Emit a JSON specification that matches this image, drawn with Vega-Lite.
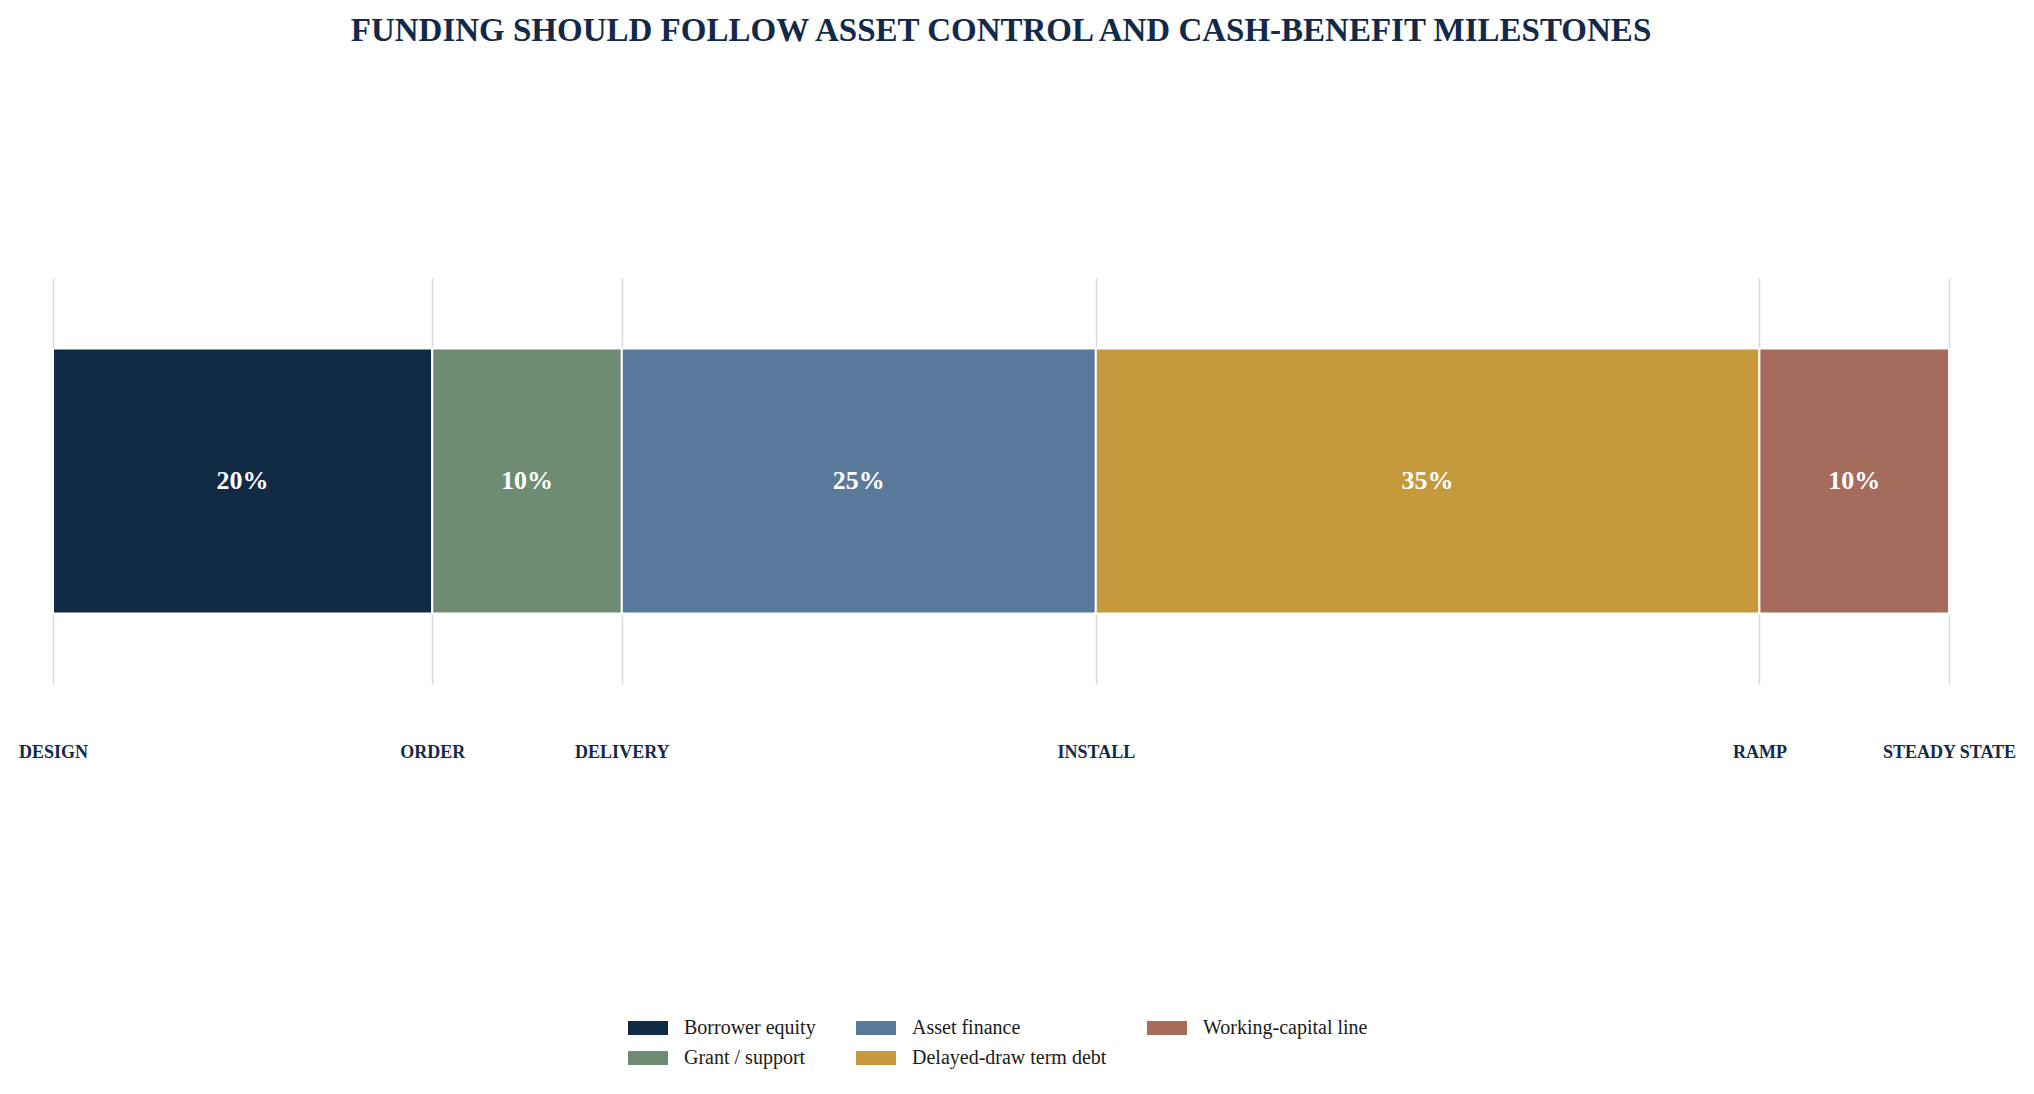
{
  "$schema": "https://vega.github.io/schema/vega-lite/v6.json",
  "width": 1896,
  "height": 406,
  "autosize": {"type": "none"},
  "padding": {"left": 53, "top": 278, "right": 85, "bottom": 410},
  "background": "#ffffff",
  "config": {"view": {"stroke": null}},
  "title": {
    "text": "FUNDING SHOULD FOLLOW ASSET CONTROL AND CASH-BENEFIT MILESTONES",
    "font": "Liberation Serif",
    "fontSize": 33,
    "fontWeight": "bold",
    "color": "#13294a",
    "anchor": "middle",
    "offset": 230
  },
  "data": {
    "values": [
      {"seq": 1, "source": "Borrower equity", "share": 20},
      {"seq": 2, "source": "Grant / support", "share": 10},
      {"seq": 3, "source": "Asset finance", "share": 25},
      {"seq": 4, "source": "Delayed-draw term debt", "share": 35},
      {"seq": 5, "source": "Working-capital line", "share": 10}
    ]
  },
  "transform": [
    {"stack": "share", "groupby": [], "sort": [{"field": "seq", "order": "ascending"}], "as": ["start", "end"]},
    {"calculate": "(datum.start + datum.end) / 2", "as": "mid"},
    {"calculate": "datum.share + '%'", "as": "label"}
  ],
  "layer": [
    {
      "mark": {"type": "bar", "stroke": "#ffffff", "strokeWidth": 2},
      "encoding": {
        "x": {
          "field": "start",
          "type": "quantitative",
          "scale": {"domain": [0, 100], "nice": false, "zero": false},
          "axis": {
            "title": null,
            "values": [0, 20, 30, 55, 90, 100],
            "labelExpr": "datum.value == 0 ? 'DESIGN' : datum.value == 20 ? 'ORDER' : datum.value == 30 ? 'DELIVERY' : datum.value == 55 ? 'INSTALL' : datum.value == 90 ? 'RAMP' : 'STEADY STATE'",
            "domain": false,
            "ticks": false,
            "grid": true,
            "gridColor": "#d5dbe5",
            "gridWidth": 1.5,
            "labelFont": "Liberation Serif",
            "labelFontSize": 18,
            "labelFontWeight": "bold",
            "labelColor": "#13294a",
            "labelPadding": 59,
            "labelOverlap": false,
            "labelFlush": false,
            "labelBound": false
          }
        },
        "x2": {"field": "end"},
        "y": {
          "datum": "Funding",
          "type": "nominal",
          "scale": {"paddingInner": 0, "paddingOuter": 0.266},
          "axis": null
        },
        "color": {
          "field": "source",
          "type": "nominal",
          "scale": {
            "domain": ["Borrower equity", "Asset finance", "Working-capital line", "Grant / support", "Delayed-draw term debt"],
            "range": ["#122b44", "#5a7a9b", "#a56c5b", "#6e8c73", "#c69a3c"]
          },
          "legend": {
            "title": null,
            "orient": "none",
            "legendX": 575,
            "legendY": 730,
            "direction": "horizontal",
            "columns": 3,
            "columnPadding": 40,
            "rowPadding": -2,
            "symbolType": "M-1,-0.35H1V0.35H-1Z",
            "symbolSize": 1600,
            "symbolStrokeWidth": 0,
            "labelOffset": 16,
            "labelFont": "Liberation Serif",
            "labelFontSize": 20,
            "labelColor": "#1a1a1a",
            "labelLimit": 400
          }
        }
      }
    },
    {
      "mark": {
        "type": "text",
        "font": "Liberation Serif",
        "fontSize": 26,
        "fontWeight": "bold",
        "color": "#ffffff",
        "align": "center",
        "baseline": "middle"
      },
      "encoding": {
        "x": {"field": "mid", "type": "quantitative"},
        "y": {"datum": "Funding", "type": "nominal"},
        "text": {"field": "label"}
      }
    }
  ]
}
